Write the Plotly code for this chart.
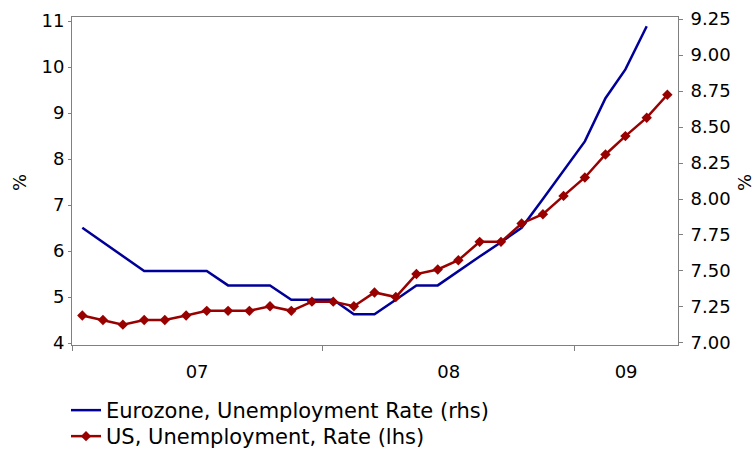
import plotly.graph_objects as go

# Monthly observations, Jan 2007 onwards (mid-month dates)
months = [
    "2007-01-16", "2007-02-15", "2007-03-16", "2007-04-16", "2007-05-16", "2007-06-16",
    "2007-07-16", "2007-08-16", "2007-09-16", "2007-10-16", "2007-11-16", "2007-12-16",
    "2008-01-16", "2008-02-15", "2008-03-16", "2008-04-16", "2008-05-16", "2008-06-16",
    "2008-07-16", "2008-08-16", "2008-09-16", "2008-10-16", "2008-11-16", "2008-12-16",
    "2009-01-16", "2009-02-15", "2009-03-16", "2009-04-16", "2009-05-16",
]

# US unemployment rate, % (left axis)
us_rate = [4.6, 4.5, 4.4, 4.5, 4.5, 4.6, 4.7, 4.7, 4.7, 4.8, 4.7, 4.9,
           4.9, 4.8, 5.1, 5.0, 5.5, 5.6, 5.8, 6.2, 6.2, 6.6, 6.8, 7.2,
           7.6, 8.1, 8.5, 8.9, 9.4]

# Eurozone unemployment rate, % (right axis), through Apr 2009
ez_rate = [7.8, 7.7, 7.6, 7.5, 7.5, 7.5, 7.5, 7.4, 7.4, 7.4, 7.3, 7.3,
           7.3, 7.2, 7.2, 7.3, 7.4, 7.4, 7.5, 7.6, 7.7, 7.8, 8.0, 8.2,
           8.4, 8.7, 8.9, 9.2]

year_labels = ["07", "08", "09"]
year_label_pos = ["2007-07-02", "2008-07-02", "2009-03-17"]
year_bounds = ["2007-01-01", "2008-01-01", "2009-01-01"]

rhs_ticks = [7.00, 7.25, 7.50, 7.75, 8.00, 8.25, 8.50, 8.75, 9.00, 9.25]
lhs_ticks = [4, 5, 6, 7, 8, 9, 10, 11]

FONT = "DejaVu Sans"
AXIS_GREY = "#808080"
BLUE = "#000099"
RED = "#990000"
W, H = 755, 450

fig = go.Figure()

fig.add_trace(go.Scatter(
    x=months[:len(ez_rate)], y=ez_rate, name="Eurozone, Unemployment Rate (rhs)",
    mode="lines", line=dict(color=BLUE, width=2.5), yaxis="y", legend="legend",
))
fig.add_trace(go.Scatter(
    x=months, y=us_rate, name="US, Unemployment, Rate (lhs)",
    mode="lines+markers", line=dict(color=RED, width=2.5),
    marker=dict(symbol="diamond", size=8, color=RED), yaxis="y2", legend="legend2",
))

legend_style = dict(
    xref="container", yref="container", xanchor="left", yanchor="top",
    font=dict(family=FONT, size=21, color="black"),
    bgcolor="rgba(0,0,0,0)", itemwidth=30,
)

fig.update_layout(
    width=W, height=H,
    margin=dict(l=72, r=77, t=17, b=105, autoexpand=False),
    paper_bgcolor="white", plot_bgcolor="white",
    font=dict(family=FONT, size=18, color="black"),
    showlegend=True,
    legend=dict(x=66 / W, y=1 - 390 / H, **legend_style),
    legend2=dict(x=66 / W, y=1 - 416 / H, **legend_style),
    xaxis=dict(
        type="date", range=["2007-01-01", "2009-05-31 12:00"], automargin=False,
        showline=True, linecolor=AXIS_GREY, linewidth=1, mirror=True,
        showgrid=False, zeroline=False,
        tickmode="array", tickvals=year_label_pos, ticktext=year_labels,
        ticks="", ticklabelstandoff=10,
        minor=dict(tickmode="array", tickvals=year_bounds, ticks="outside",
                   ticklen=5, tickcolor=AXIS_GREY, showgrid=False),
        tickfont=dict(size=18),
    ),
    yaxis=dict(
        side="right", range=[6.986, 9.264], automargin=False,
        tickmode="array", tickvals=rhs_ticks, tickformat=".2f",
        showline=True, linecolor=AXIS_GREY, linewidth=1,
        ticks="outside", ticklen=4, tickcolor=AXIS_GREY,
        showgrid=False, zeroline=False, ticklabelstandoff=4,
    ),
    yaxis2=dict(
        overlaying="y", side="left", range=[3.957, 11.09], automargin=False,
        tickmode="array", tickvals=lhs_ticks,
        showline=True, linecolor=AXIS_GREY, linewidth=1,
        ticks="outside", ticklen=3, tickcolor=AXIS_GREY,
        showgrid=False, zeroline=False, ticklabelstandoff=0,
    ),
    annotations=[
        # chart title, sitting above the plot frame
        dict(text="<b>Unemployment</b>", xref="paper", yref="paper",
             x=0.417, y=1.049, xanchor="center", yanchor="bottom",
             showarrow=False, font=dict(family=FONT, size=18, color="black")),
        # axis unit labels
        dict(text="%", xref="paper", yref="paper", x=(20 - 72) / 606, y=0.494,
             textangle=-90, showarrow=False, xanchor="center", yanchor="middle",
             font=dict(family=FONT, size=18, color="black")),
        dict(text="%", xref="paper", yref="paper", x=(745 - 72) / 606, y=0.494,
             textangle=-90, showarrow=False, xanchor="center", yanchor="middle",
             font=dict(family=FONT, size=18, color="black")),
    ],
)

fig.write_html("out.html")
